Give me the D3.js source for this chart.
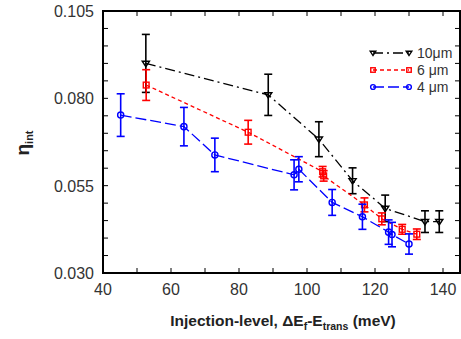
<!DOCTYPE html>
<html><head><meta charset="utf-8">
<script src="https://cdn.jsdelivr.net/npm/d3@7"></script>
<style>
body{margin:0;background:#fff;}
svg{display:block;font-family:Arial,"Liberation Sans",sans-serif;}
</style></head>
<body>
<svg id="c" width="461" height="339"></svg>
<script>
// Data
const seriesNames = ["10μm", "6 μm", "4 μm"];
const x10 = [52.6, 88.6, 103.5, 113.4, 123.0, 134.7, 138.9];
const y10 = [0.0900, 0.0810, 0.0683, 0.0564, 0.0485, 0.0447, 0.0447];
const e10 = [0.0083, 0.0059, 0.0050, 0.0037, 0.0038, 0.0031, 0.0031];
const x6 = [52.7, 82.7, 104.6, 104.9, 116.9, 122.0, 128.0, 132.3];
const y6 = [0.0838, 0.0703, 0.0590, 0.0578, 0.0495, 0.0455, 0.0425, 0.0411];
const e6 = [0.0044, 0.0034, 0.0015, 0.0015, 0.0020, 0.0017, 0.0014, 0.0015];
const x4 = [45.2, 63.8, 72.9, 96.2, 97.6, 107.4, 116.3, 124.0, 125.0, 130.0];
const y4 = [0.0752, 0.0719, 0.0638, 0.0581, 0.0597, 0.0502, 0.0461, 0.0417, 0.0410, 0.0383];
const e4 = [0.0061, 0.0055, 0.0048, 0.0043, 0.0036, 0.0037, 0.0036, 0.0035, 0.0035, 0.0029];
const xTicks = [40, 60, 80, 100, 120, 140];
const yTicks = [0.030, 0.055, 0.080, 0.105];

const W = 461, H = 339;
const m = {left: 103, right: 1, top: 11, bottom: 66};
const svg = d3.select("#c");
const x = d3.scaleLinear().domain([40, 145]).range([m.left, W - m.right]);
const y = d3.scaleLinear().domain([0.030, 0.105]).range([H - m.bottom, m.top]);

const series = [
  {name: seriesNames[0], xs: x10, ys: y10, es: e10, color: "#000", dash: "10,4,2,4", marker: "tri"},
  {name: seriesNames[1], xs: x6, ys: y6, es: e6, color: "#ff0000", dash: "4,3", marker: "sq"},
  {name: seriesNames[2], xs: x4, ys: y4, es: e4, color: "#0000ff", dash: "11,4", marker: "circ"}
];

// ticks (inward, all four sides)
const xMinor = d3.range(40, 146, 10);
const yMinor = d3.range(0, 16).map(i => 0.030 + i * 0.005);
const tk = 5;
const g = svg.append("g");
xMinor.forEach(v => {
  g.append("line").attr("x1", x(v)).attr("x2", x(v)).attr("y1", y.range()[0]).attr("y2", y.range()[0] - tk).attr("stroke", "#000").attr("stroke-width", 1);
  g.append("line").attr("x1", x(v)).attr("x2", x(v)).attr("y1", y.range()[1]).attr("y2", y.range()[1] + tk).attr("stroke", "#000").attr("stroke-width", 1);
});
yMinor.forEach(v => {
  g.append("line").attr("y1", y(v)).attr("y2", y(v)).attr("x1", m.left).attr("x2", m.left + tk).attr("stroke", "#000").attr("stroke-width", 1);
  g.append("line").attr("y1", y(v)).attr("y2", y(v)).attr("x1", W - m.right).attr("x2", W - m.right - tk).attr("stroke", "#000").attr("stroke-width", 1);
});

// tick labels
xTicks.forEach(v => {
  svg.append("text").attr("x", x(v)).attr("y", 295).attr("text-anchor", "middle")
    .attr("font-size", 16).attr("fill", "#333").text(v);
});
yTicks.forEach(v => {
  svg.append("text").attr("x", 94).attr("y", y(v) + 6).attr("text-anchor", "end")
    .attr("font-size", 16).attr("fill", "#333").text(d3.format(".3f")(v));
});

// frame
svg.append("rect").attr("x", m.left).attr("y", m.top)
  .attr("width", W - m.right - m.left).attr("height", H - m.bottom - m.top)
  .attr("fill", "none").attr("stroke", "#000").attr("stroke-width", 2);

function marker(sel, type, cx, cy, color, s) {
  if (type === "tri") {
    const r = s;
    sel.append("path").attr("d", `M${cx - r},${cy - r * 0.6}L${cx + r},${cy - r * 0.6}L${cx},${cy + r * 0.9}Z`)
      .attr("fill", "none").attr("stroke", color).attr("stroke-width", 1.4);
  } else if (type === "sq") {
    sel.append("rect").attr("x", cx - s * 0.8).attr("y", cy - s * 0.8).attr("width", s * 1.6).attr("height", s * 1.6)
      .attr("fill", "none").attr("stroke", color).attr("stroke-width", 1.4);
  } else {
    sel.append("circle").attr("cx", cx).attr("cy", cy).attr("r", s * 0.85)
      .attr("fill", "none").attr("stroke", color).attr("stroke-width", 1.4);
  }
}

const line = d3.line().x(d => x(d[0])).y(d => y(d[1]));
series.forEach(s => {
  const pts = s.xs.map((v, i) => [v, s.ys[i], s.es[i]]);
  const sg = svg.append("g");
  sg.append("path").datum(pts).attr("d", line).attr("fill", "none")
    .attr("stroke", s.color).attr("stroke-width", 1.3).attr("stroke-dasharray", s.dash);
  pts.forEach(p => {
    const cx = x(p[0]);
    sg.append("line").attr("x1", cx).attr("x2", cx).attr("y1", y(p[1] - p[2])).attr("y2", y(p[1] + p[2]))
      .attr("stroke", s.color).attr("stroke-width", 1.6);
    [p[1] - p[2], p[1] + p[2]].forEach(v => {
      sg.append("line").attr("x1", cx - 4).attr("x2", cx + 4).attr("y1", y(v)).attr("y2", y(v))
        .attr("stroke", s.color).attr("stroke-width", 1.6);
    });
    marker(sg, s.marker, cx, y(p[1]), s.color, 3.6);
  });
});

// legend
const legY = [53, 70, 87];
series.forEach((s, i) => {
  const lg = svg.append("g");
  lg.append("line").attr("x1", 373).attr("x2", 409).attr("y1", legY[i]).attr("y2", legY[i])
    .attr("stroke", s.color).attr("stroke-width", 1.3).attr("stroke-dasharray", s.dash);
  marker(lg, s.marker, 373, legY[i], s.color, 2.8);
  marker(lg, s.marker, 409, legY[i], s.color, 2.8);
  lg.append("text").attr("x", 417).attr("y", legY[i] + 5).attr("font-size", 14).attr("fill", "#333").text(s.name);
});

// axis titles
const xl = svg.append("text").attr("x", 283).attr("y", 326).attr("text-anchor", "middle")
  .attr("font-size", 15.5).attr("font-weight", "bold").attr("fill", "#222");
xl.append("tspan").text("Injection-level, ΔE");
xl.append("tspan").attr("font-size", 10.5).attr("dy", 4).text("f");
xl.append("tspan").attr("dy", -4).text("-E");
xl.append("tspan").attr("font-size", 10.5).attr("dy", 4).text("trans");
xl.append("tspan").attr("dy", -4).text(" (meV)");

const yl = svg.append("text").attr("transform", "translate(29,143) rotate(-90)").attr("text-anchor", "middle")
  .attr("font-size", 19).attr("font-weight", "bold").attr("fill", "#222");
yl.append("tspan").text("η");
yl.append("tspan").attr("font-size", 11).attr("dy", 4).text("int");
</script>
</body></html>
